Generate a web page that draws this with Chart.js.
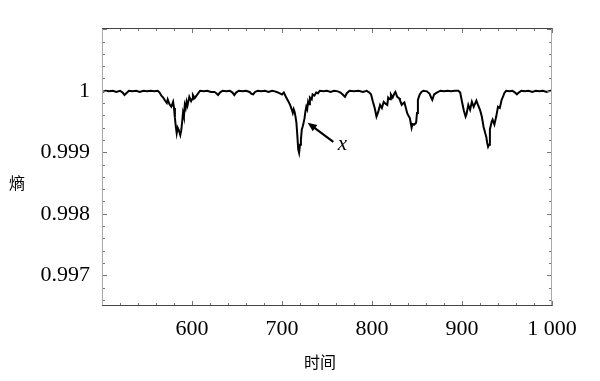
<!DOCTYPE html>
<html>
<head>
<meta charset="utf-8">
<script src="https://cdn.jsdelivr.net/npm/chart.js@4.4.1/dist/chart.umd.min.js"></script>
<style>
  body { margin: 0; background: #fff; }
</style>
</head>
<body>
<canvas id="myChart" width="600" height="381"></canvas>
<script>
// time axis (x) and entropy values (y)
const time = [
  500, 504, 508, 512, 516, 520, 523, 525, 527, 530, 534, 538, 542, 546, 550, 554, 558, 562,
  564, 566, 568, 570, 572, 573, 575, 577, 579, 580, 581, 582, 583, 584, 585, 586, 587, 588,
  589, 590, 591, 592, 593, 594, 595, 597, 599, 600, 601, 603, 605, 607, 609, 613, 617, 621,
  625, 627, 629, 631, 634, 638, 642, 645, 647, 649, 652, 656, 660, 664, 666, 668, 670, 673,
  677, 681, 685, 689, 692, 694, 697, 700, 702, 704, 705, 707, 709, 711, 712, 713, 714, 715,
  716, 717, 718, 719, 720, 721, 722, 723, 724, 725, 726, 727, 728, 729, 730, 731, 733, 734,
  736, 738, 740, 742, 746, 750, 754, 758, 762, 765, 768, 770, 772, 775, 780, 785, 790, 794,
  797, 799, 801, 803, 805, 806, 807, 809, 811, 813, 815, 817, 818, 820, 821, 823, 825, 826,
  828, 830, 831, 833, 835, 836, 838, 839, 841, 842, 843, 844, 845, 847, 849, 850, 851, 853,
  855, 857, 861, 864, 866, 867, 869, 872, 876, 880, 884, 888, 892, 896, 898, 900, 902, 904,
  905, 907, 909, 911, 913, 916, 918, 920, 922, 924, 926, 927, 928, 929, 930, 931, 933, 934,
  936, 938, 940, 942, 944, 946, 947, 949, 953, 956, 959, 961, 963, 966, 970, 974, 978, 982,
  986, 990, 994, 998, 1000
];

const entropy = [
  0.99998, 1, 0.99999, 1, 0.99998, 1, 0.99997, 0.99993, 0.99996, 1, 0.99999, 1, 0.99998, 1, 0.99999, 1, 0.99999, 1,
  0.99997, 0.99992, 0.99989, 0.99984, 0.9998, 0.99986, 0.99978, 0.99974, 0.99982, 0.99972, 0.99956, 0.99942, 0.99931, 0.9994, 0.99937, 0.99933, 0.99928, 0.99935,
  0.99948, 0.99964, 0.99958, 0.99977, 0.99972, 0.99982, 0.99976, 0.9999, 0.99983, 0.99986, 0.99993, 0.99988, 0.99992, 0.99996, 1, 0.99999, 1, 0.99998,
  0.99998, 0.99996, 0.99993, 0.99997, 1, 0.99999, 1, 0.99997, 0.99993, 0.99997, 1, 0.99999, 1, 0.99998, 0.99995, 0.99994, 0.99998, 1,
  0.99999, 1, 0.99998, 1, 0.99999, 0.99998, 0.99996, 0.99994, 0.99997, 0.99991, 0.99988, 0.99983, 0.99977, 0.99969, 0.99964, 0.9997, 0.99966, 0.99958,
  0.99948, 0.99928, 0.99905, 0.99899, 0.99912, 0.9992, 0.99937, 0.99942, 0.99948, 0.99955, 0.99966, 0.99974, 0.9997, 0.99982, 0.99978, 0.99989, 0.99986, 0.99994,
  0.99992, 0.99997, 0.99996, 1, 0.99999, 1, 0.99998, 1, 0.99999, 0.99997, 0.99993, 0.9999, 0.99996, 1, 0.99999, 1, 0.99998, 1,
  0.99997, 0.99994, 0.99982, 0.99972, 0.99958, 0.99962, 0.99966, 0.99977, 0.99972, 0.99982, 0.99979, 0.99977, 0.99989, 0.99986, 0.99994, 0.99989, 0.99996, 0.99998,
  0.9999, 0.99988, 0.99985, 0.99977, 0.9998, 0.99981, 0.9997, 0.99964, 0.99958, 0.99956, 0.99948, 0.9994, 0.99946, 0.99945, 0.99948, 0.99964, 0.99985, 0.99994,
  0.99998, 1, 0.99999, 0.99995, 0.99988, 0.99985, 0.99994, 0.99997, 1, 0.99999, 1, 0.99999, 1, 1, 0.99997, 0.99982, 0.99968, 0.99958,
  0.99962, 0.99977, 0.99969, 0.99982, 0.99974, 0.99984, 0.99976, 0.99969, 0.99958, 0.99941, 0.9993, 0.99925, 0.99915, 0.99909, 0.99912, 0.99937, 0.9995, 0.99953,
  0.99945, 0.99958, 0.99974, 0.99972, 0.99985, 0.99992, 0.99996, 1, 0.99999, 1, 0.99997, 0.99994, 0.99997, 1, 0.99999, 1, 0.99998, 1,
  0.99999, 1, 0.99998, 1, 0.99999
];

// tick values and their labels
const xTickValues = [600, 700, 800, 900, 1000];
const xTickLabels = ['600', '700', '800', '900', '1 000'];
const yTickValues = [1, 0.999, 0.998, 0.997];
const yTickLabels = ['1', '0.999', '0.998', '0.997'];

// arrow pointing at the curve, in data coordinates
const arrowFrom = { x: 757, y: 0.99917 };
const arrowTo = { x: 728.5, y: 0.99948 };
const arrowLabel = { x: 767, y: 0.99912, text: 'x' };

const ctx = document.getElementById('myChart').getContext('2d');

// frame, inward ticks, axis titles and the arrow
const framePlugin = {
  id: 'frame',
  afterDraw(chart) {
    const { ctx, chartArea: a, scales } = chart;
    const xs = scales.x, ys = scales.y;
    ctx.save();

    // inward ticks on all four sides
    ctx.strokeStyle = '#777';
    ctx.lineWidth = 1;
    for (let v = 500; v <= 1000; v += 20) {
      const px = Math.round(xs.getPixelForValue(v)) + 0.5;
      const len = v % 100 === 0 ? 5 : 3;
      ctx.beginPath();
      ctx.moveTo(px, a.bottom); ctx.lineTo(px, a.bottom - len);
      ctx.moveTo(px, a.top); ctx.lineTo(px, a.top + len);
      ctx.stroke();
    }
    for (let i = 0; i <= 22; i++) {
      const v = 0.9966 + i * 0.0002;
      const py = Math.round(ys.getPixelForValue(v)) + 0.5;
      const len = i % 5 === 2 ? 5 : 3;
      ctx.beginPath();
      ctx.moveTo(a.left, py); ctx.lineTo(a.left + len, py);
      ctx.moveTo(a.right, py); ctx.lineTo(a.right - len, py);
      ctx.stroke();
    }

    // frame
    ctx.strokeStyle = '#aaa';
    ctx.beginPath();
    ctx.moveTo(a.left + 0.5, a.top); ctx.lineTo(a.left + 0.5, a.bottom);
    ctx.moveTo(a.right - 0.5, a.top); ctx.lineTo(a.right - 0.5, a.bottom);
    ctx.stroke();
    ctx.strokeStyle = '#444';
    ctx.beginPath();
    ctx.moveTo(a.left, a.top + 0.5); ctx.lineTo(a.right, a.top + 0.5);
    ctx.moveTo(a.left, a.bottom - 0.5); ctx.lineTo(a.right, a.bottom - 0.5);
    ctx.stroke();

    // axis titles
    ctx.fillStyle = '#000';
    ctx.font = '16px "Noto Sans CJK SC"';
    ctx.textAlign = 'center';
    ctx.textBaseline = 'middle';
    ctx.fillText('熵', 17, (a.top + a.bottom) / 2 + 16);
    ctx.fillText('时间', (a.left + a.right) / 2 - 7, 362);

    // arrow
    const x1 = xs.getPixelForValue(arrowFrom.x), y1 = ys.getPixelForValue(arrowFrom.y);
    const x2 = xs.getPixelForValue(arrowTo.x), y2 = ys.getPixelForValue(arrowTo.y);
    const ang = Math.atan2(y2 - y1, x2 - x1);
    ctx.strokeStyle = '#000';
    ctx.lineWidth = 2.2;
    ctx.beginPath();
    ctx.moveTo(x1, y1);
    ctx.lineTo(x2 - 6 * Math.cos(ang), y2 - 6 * Math.sin(ang));
    ctx.stroke();
    ctx.beginPath();
    ctx.moveTo(x2, y2);
    ctx.lineTo(x2 - 10 * Math.cos(ang - 0.4), y2 - 10 * Math.sin(ang - 0.4));
    ctx.lineTo(x2 - 10 * Math.cos(ang + 0.4), y2 - 10 * Math.sin(ang + 0.4));
    ctx.closePath();
    ctx.fill();

    ctx.font = 'italic 21px "Liberation Serif"';
    ctx.fillText(arrowLabel.text, xs.getPixelForValue(arrowLabel.x), ys.getPixelForValue(arrowLabel.y));
    ctx.restore();
  }
};

new Chart(ctx, {
  type: 'line',
  data: {
    labels: time,
    datasets: [
      {
        data: time.map((t, i) => ({ x: t, y: entropy[i] })),
        borderColor: '#000',
        borderWidth: 2,
        pointRadius: 0,
        tension: 0,
        fill: false,
      },
    ],
  },
  options: {
    responsive: false,
    animation: false,
    layout: { padding: { top: 28, right: 48, left: 0, bottom: 0 } },
    plugins: {
      legend: { display: false },
      tooltip: { enabled: false },
    },
    scales: {
      x: {
        type: 'linear',
        min: 500,
        max: 1000,
        grid: { display: false, drawTicks: false },
        border: { display: false },
        afterBuildTicks: scale => {
          scale.ticks = xTickValues.map(v => ({ value: v }));
        },
        afterFit: scale => { scale.height = 75; },
        ticks: {
          maxRotation: 0,
          autoSkip: false,
          padding: 10,
          color: '#000',
          font: { family: '"Liberation Serif", "Times New Roman", serif', size: 22 },
          callback: value => xTickLabels[xTickValues.indexOf(value)],
        },
      },
      y: {
        min: 0.9965,
        max: 1.00102,
        grid: { display: false, drawTicks: false },
        border: { display: false },
        afterBuildTicks: scale => {
          scale.ticks = yTickValues.map(v => ({ value: v }));
        },
        afterFit: scale => { scale.width = 102; },
        ticks: {
          autoSkip: false,
          padding: 12,
          color: '#000',
          font: { family: '"Liberation Serif", "Times New Roman", serif', size: 22 },
          callback: value => yTickLabels[yTickValues.indexOf(value)],
        },
      },
    },
  },
  plugins: [framePlugin],
});
</script>
</body>
</html>
